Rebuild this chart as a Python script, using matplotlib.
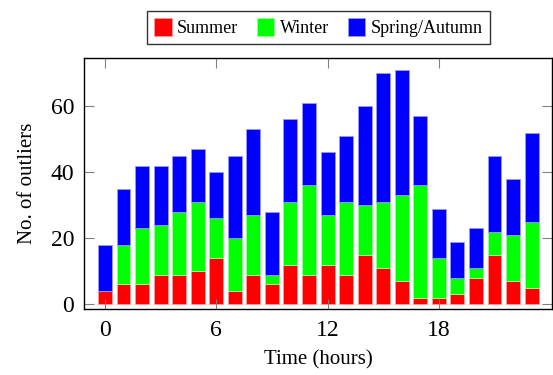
import matplotlib
matplotlib.use("Agg")
import matplotlib.pyplot as plt
import numpy as np

hours = list(range(24))
summer = [4, 6, 6, 9, 9, 10, 14, 4, 9, 6, 12, 9, 12, 9, 15, 11, 7, 2, 2, 3, 8, 15, 7, 5]
winter = [0, 12, 17, 15, 19, 21, 12, 16, 18, 3, 19, 27, 15, 22, 15, 20, 26, 34, 12, 5, 3, 7, 14, 20]
spring_autumn = [14, 17, 19, 18, 17, 16, 14, 25, 26, 19, 25, 25, 19, 20, 30, 39, 38, 21, 15, 11, 12, 23, 17, 27]
series_names = ["Summer", "Winter", "Spring/Autumn"]
xticks = [0, 6, 12, 18]
yticks = [0, 20, 40, 60]

plt.rcParams['font.family'] = ['Liberation Serif', 'DejaVu Serif']

fig = plt.figure(figsize=(5.53, 3.75), dpi=100)
ax = fig.add_axes([84/553, 66/375, 468/553, 251/375])

colors = ["#ff0000", "#00ff00", "#0000ff"]
edges = ["#ff9999", "#99ff99", "#9999ff"]
bottom = np.zeros(len(hours))
handles = []
for vals, name, c, e in zip([summer, winter, spring_autumn], series_names, colors, edges):
    b = ax.bar(hours, vals, width=0.75, bottom=bottom, color=c, edgecolor=e,
               linewidth=0.6, label=name)
    handles.append(b)
    bottom += np.array(vals)

ax.set_xlim(-1.13, 24.1)
ax.set_ylim(-1.45, 74.6)
ax.set_xticks(xticks)
ax.set_yticks(yticks)
ax.tick_params(direction='in', length=7.5, width=0.8, color='#808080',
               top=True, right=True, labelsize=17)
ax.tick_params(axis='x', pad=8)
ax.tick_params(axis='y', pad=7)
for s in ax.spines.values():
    s.set_linewidth(1.0)
    s.set_color('black')

ax.set_xlabel("Time (hours)", fontsize=15, va='center')
ax.set_ylabel("No. of outliers", fontsize=15, va='center')
ax.xaxis.set_label_coords(0.5, (309 - 360) / 251)
ax.yaxis.set_label_coords((28 - 84) / 468, 0.5)

leg = fig.legend(handles=handles, labels=series_names, loc='center',
                 bbox_to_anchor=(318.5/553, 1 - 27.5/375), ncol=3,
                 fontsize=13, frameon=True, fancybox=False,
                 handlelength=0.95, handleheight=1.15, handletextpad=0.3,
                 columnspacing=1.05, borderpad=0.4, borderaxespad=0)
leg.get_frame().set_edgecolor('black')
leg.get_frame().set_linewidth(1.0)

fig.savefig("out.png", dpi=100)
